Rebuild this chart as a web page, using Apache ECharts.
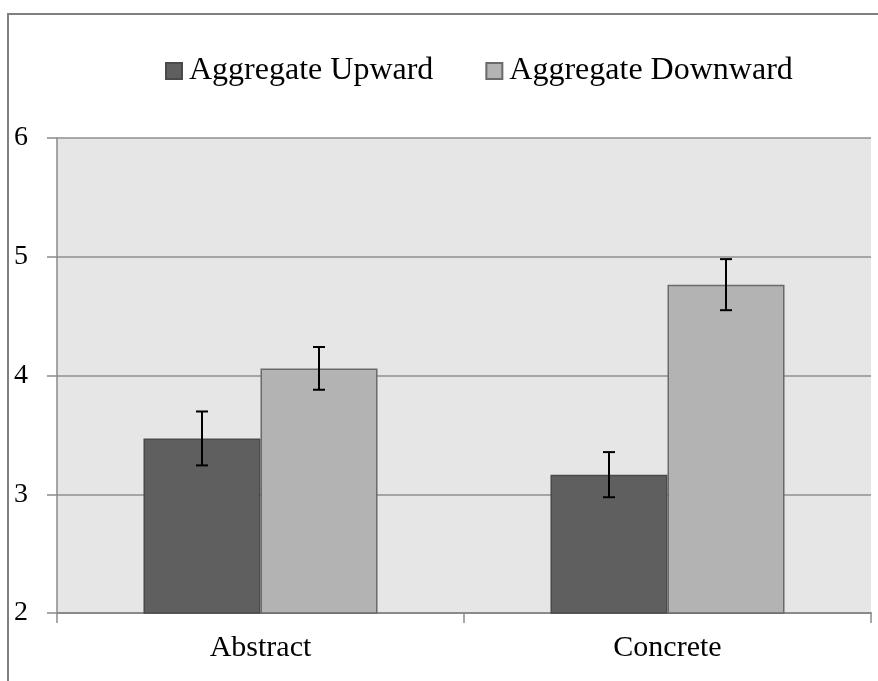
<!DOCTYPE html>
<html>
<head>
<meta charset="utf-8">
<script src="https://cdn.jsdelivr.net/npm/echarts@6/dist/echarts.min.js"></script>
<style>
html,body{margin:0;padding:0;background:#fff;}
#chart{width:878px;height:681px;}
</style>
</head>
<body>
<div id="chart"></div>
<script>
var categories = ['Abstract', 'Concrete'];
var seriesNames = ['Aggregate Upward', 'Aggregate Downward'];
var upwardMeans = [3.47, 3.165];
var upwardErr = [0.227, 0.19];
var downwardMeans = [4.06, 4.765];
var downwardErr = [0.18, 0.215];
var yTicks = [2, 3, 4, 5, 6];

var FONT = "'Liberation Serif', 'Times New Roman', serif";
var chart = echarts.init(document.getElementById('chart'), null, {renderer: 'canvas'});

function errData(means, errs) {
  return means.map(function (m, i) { return [i, m - errs[i], m + errs[i]]; });
}
function errRender(sign) {
  return function (params, api) {
    var x = api.value(0);
    var lo = api.coord([x, api.value(1)]);
    var hi = api.coord([x, api.value(2)]);
    var band = api.size([1, 0])[0];
    var off = sign * band * (1 - 0.425) / 4;
    var cx = lo[0] + off;
    var cap = 6;
    var style = {stroke: '#000', lineWidth: 2};
    return {
      type: 'group',
      children: [
        {type: 'line', shape: {x1: cx, y1: lo[1], x2: cx, y2: hi[1]}, style: style},
        {type: 'line', shape: {x1: cx - cap, y1: lo[1], x2: cx + cap, y2: lo[1]}, style: style},
        {type: 'line', shape: {x1: cx - cap, y1: hi[1], x2: cx + cap, y2: hi[1]}, style: style}
      ]
    };
  };
}

var option = {
  animation: false,
  backgroundColor: '#ffffff',
  textStyle: {fontFamily: FONT},
  graphic: [{
    type: 'rect',
    shape: {x: 8, y: 14, width: 900, height: 720},
    style: {fill: 'none', stroke: '#808080', lineWidth: 2},
    silent: true
  }],
  legend: {
    data: seriesNames,
    left: 160,
    top: 50,
    itemWidth: 16,
    itemHeight: 16,
    itemGap: 52,
    icon: 'rect',
    textStyle: {fontFamily: FONT, fontSize: 32, color: '#000', padding: [0, 0, 0, 2]}
  },
  grid: {
    left: 57, right: 7, top: 138, bottom: 68,
    show: true, backgroundColor: '#e6e6e6', borderWidth: 0
  },
  xAxis: {
    type: 'category',
    data: categories,
    axisLine: {lineStyle: {color: '#8a8a8a', width: 2}},
    axisTick: {show: true, length: 10, lineStyle: {color: '#8a8a8a', width: 1.5}},
    axisLabel: {fontFamily: FONT, fontSize: 30, color: '#000', margin: 20}
  },
  yAxis: {
    type: 'value',
    min: 2, max: 6, interval: 1,
    axisLine: {show: true, lineStyle: {color: '#8a8a8a', width: 1.5}},
    axisTick: {show: true, length: 10, lineStyle: {color: '#8a8a8a', width: 1.5}},
    splitLine: {show: true, lineStyle: {color: '#8f8f8f', width: 1.5}},
    axisLabel: {
      fontFamily: FONT, fontSize: 28, color: '#000', margin: 29,
      formatter: function (v) { return yTicks.indexOf(v) >= 0 ? String(v) : ''; }
    }
  },
  series: [
    {
      name: seriesNames[0], type: 'bar', data: upwardMeans,
      barGap: '0%', barCategoryGap: '42.5%',
      itemStyle: {color: '#5f5f5f', borderColor: '#4a4a4a', borderWidth: 1.5}
    },
    {
      name: seriesNames[1], type: 'bar', data: downwardMeans,
      barGap: '0%', barCategoryGap: '42.5%',
      itemStyle: {color: '#b3b3b3', borderColor: '#6a6a6a', borderWidth: 1.5}
    },
    {
      type: 'custom', data: errData(upwardMeans, upwardErr),
      renderItem: errRender(-1), z: 10, silent: true,
      encode: {x: 0, y: [1, 2]}
    },
    {
      type: 'custom', data: errData(downwardMeans, downwardErr),
      renderItem: errRender(1), z: 10, silent: true,
      encode: {x: 0, y: [1, 2]}
    }
  ]
};
chart.setOption(option);
</script>
</body>
</html>
